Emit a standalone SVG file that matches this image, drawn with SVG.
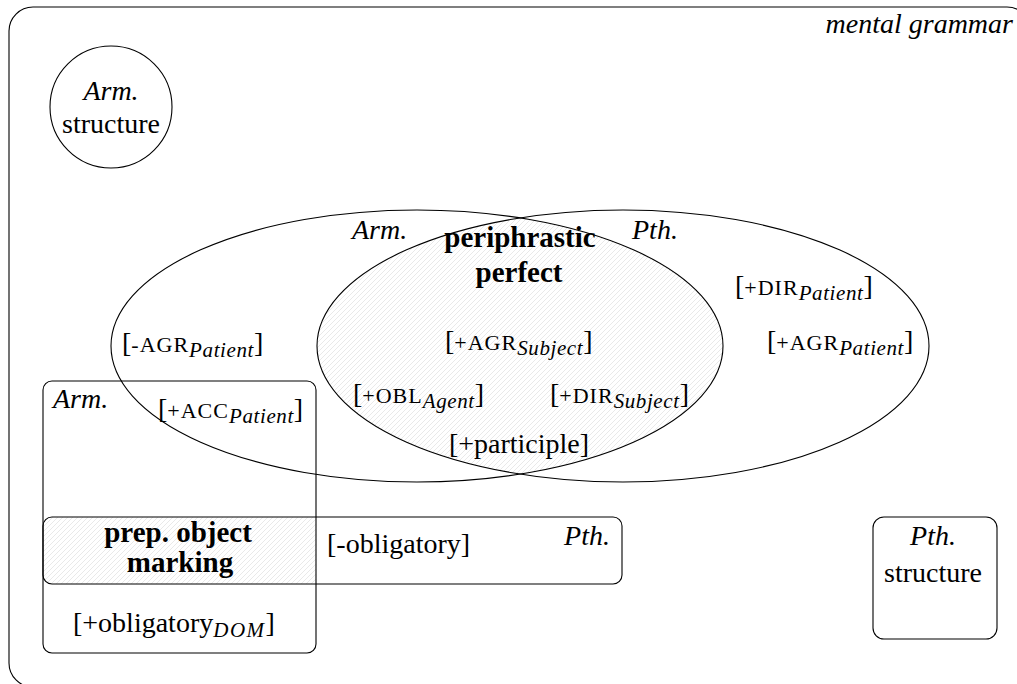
<svg xmlns="http://www.w3.org/2000/svg" width="1017" height="684" viewBox="0 0 1017 684">
<style>
text{fill:#000;font-family:"Liberation Serif","Times New Roman",serif;}
.rm{font-size:28px;}
.it{font-size:28px;font-style:italic;}
.bf{font-size:29px;font-weight:bold;}
.sc{font-size:22px;letter-spacing:1px;}
.sub{font-size:21px;font-style:italic;letter-spacing:0.6px;}
.ln{fill:none;stroke:#000;stroke-width:1.1;}
.c{text-anchor:middle;}
.e{text-anchor:end;}
</style>
<defs>
<pattern id="hatch" patternUnits="userSpaceOnUse" width="5" height="5">
<path d="M-1,1 L1,-1 M0,5 L5,0 M4,6 L6,4" stroke="#dadada" stroke-width="0.6"/>
</pattern>
<clipPath id="clipArmEll"><ellipse cx="417" cy="346" rx="306" ry="136"/></clipPath>
<clipPath id="clipArmBox"><rect x="43" y="381" width="273" height="272" rx="9"/></clipPath>
</defs>

<g id="mental-grammar">
<rect class="ln" x="9" y="7" width="1022" height="680" rx="24"/>
<text class="it e" x="1013" y="33">mental grammar</text>
</g>

<g id="arm-structure">
<circle class="ln" cx="111" cy="107" r="61"/>
<text class="it c" x="111" y="100">Arm.</text>
<text class="rm c" x="111" y="133">structure</text>
</g>

<g id="periphrastic-perfect">
<ellipse cx="623" cy="346" rx="306" ry="136" fill="url(#hatch)" clip-path="url(#clipArmEll)"/>
<text class="bf c" x="520" y="247">periphrastic</text>
<text class="bf c" x="519" y="282">perfect</text>
<text class="rm" x="445" y="350">[<tspan class="sc">+AGR</tspan><tspan class="sub" dy="5">Subject</tspan><tspan dy="-5">]</tspan></text>
<text class="rm" x="353" y="403">[<tspan class="sc">+OBL</tspan><tspan class="sub" dy="5">Agent</tspan><tspan dy="-5">]</tspan></text>
<text class="rm" x="550" y="403">[<tspan class="sc">+DIR</tspan><tspan class="sub" dy="5">Subject</tspan><tspan dy="-5">]</tspan></text>
<text class="rm c" x="519" y="453">[+participle]</text>
</g>

<g id="arm-ellipse">
<ellipse class="ln" cx="417" cy="346" rx="306" ry="136"/>
<text class="it" x="352" y="239">Arm.</text>
<text class="rm" x="122" y="352">[<tspan class="sc">-AGR</tspan><tspan class="sub" dy="5">Patient</tspan><tspan dy="-5">]</tspan></text>
</g>

<g id="pth-ellipse">
<ellipse class="ln" cx="623" cy="346" rx="306" ry="136"/>
<text class="it" x="632" y="239">Pth.</text>
<text class="rm" x="735" y="295">[<tspan class="sc">+DIR</tspan><tspan class="sub" dy="5">Patient</tspan><tspan dy="-5">]</tspan></text>
<text class="rm" x="767" y="350">[<tspan class="sc">+AGR</tspan><tspan class="sub" dy="5">Patient</tspan><tspan dy="-5">]</tspan></text>
</g>

<g id="prep-object-marking">
<rect x="43" y="517" width="579" height="67" rx="9" fill="url(#hatch)" clip-path="url(#clipArmBox)"/>
<text class="bf c" x="178" y="542">prep. object</text>
<text class="bf c" x="180" y="572">marking</text>
</g>

<g id="arm-box">
<rect class="ln" x="43" y="381" width="273" height="272" rx="9"/>
<text class="it" x="53" y="408">Arm.</text>
<text class="rm" x="158" y="418">[<tspan class="sc">+ACC</tspan><tspan class="sub" dy="5">Patient</tspan><tspan dy="-5">]</tspan></text>
<text class="rm" x="73" y="632">[+obligatory<tspan class="sub" dy="5" style="letter-spacing:1.5px">DOM</tspan><tspan dy="-5">]</tspan></text>
</g>

<g id="pth-box">
<rect class="ln" x="43" y="517" width="579" height="67" rx="9"/>
<text class="it e" x="610" y="545">Pth.</text>
<text class="rm" x="327" y="553">[-obligatory]</text>
</g>

<g id="pth-structure">
<rect class="ln" x="873" y="517" width="124" height="122" rx="11"/>
<text class="it c" x="933" y="545">Pth.</text>
<text class="rm c" x="933" y="582">structure</text>
</g>

<g id="connectors"/>
</svg>
